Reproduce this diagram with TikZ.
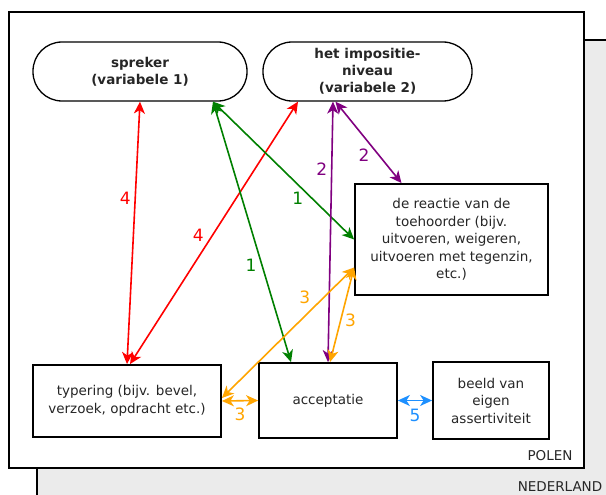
\documentclass[tikz,border=0pt]{standalone}
\usepackage{fontspec}
\setmainfont{DejaVu Sans}
\usepackage{tikz}
\usetikzlibrary{arrows.meta,positioning,calc}
\usepackage{xcolor}

\definecolor{groen}{HTML}{008000}
\definecolor{paars}{HTML}{800080}
\definecolor{oranje}{HTML}{FFA500}
\definecolor{blauw}{HTML}{1E90FF}

\tikzset{
    tekst/.style={font=\fontsize{13.5}{17.5}\selectfont, text=black!85, align=center},
    ovaal/.style={tekst, draw, line width=1.3pt, rounded corners=29pt, font=\fontsize{13.5}{17}\selectfont\bfseries},
    vak/.style={tekst, draw, line width=1.8pt},
    pijl/.style={{Stealth[length=12pt,width=11pt,inset=3.5pt]}-{Stealth[length=12pt,width=11pt,inset=3.5pt]}, line width=1.6pt},
    getal/.style={font=\fontsize{17}{19}\selectfont, inner sep=0pt}
}

\begin{document}
\begin{tikzpicture}[x=1pt, y=-1pt]
    \useasboundingbox (0,0) rectangle (606,495);

    % landen
    \draw[line width=1.8pt, fill=black!8] (37,40) rectangle (630,520);
    \draw[line width=1.8pt, fill=white] (9,12) rectangle (584,468);
    \node[tekst] (nl) at (560,487) {NEDERLAND};
    \node[tekst] (pl) at (550,456) {POLEN};

    % variabelen
    \node[ovaal, minimum width=214pt, minimum height=59pt] (spreker) at (140,71.5) {spreker\\(variabele 1)};
    \node[ovaal, minimum width=209pt, minimum height=59pt] (impositie) at (367.5,71.5) {het impositie-\\niveau\\(variabele 2)};

    % vakken
    \node[vak, minimum width=193pt, minimum height=111pt] (reactie) at (451.5,239.5) {de reactie van de\\toehoorder (bijv.\\uitvoeren, weigeren,\\uitvoeren met tegenzin,\\etc.)};
    \node[vak, minimum width=188pt, minimum height=72pt] (typering) at (127,401) {typering (bijv. bevel,\\verzoek, opdracht etc.)};
    \node[vak, minimum width=138pt, minimum height=75pt] (acceptatie) at (328,400.5) {acceptatie};
    \node[vak, minimum width=116pt, minimum height=77pt] (beeld) at (491,400.5) {beeld van\\eigen\\assertiviteit};

    % 4
    \draw[pijl, red] (spreker.south) -- (typering.north) node[getal, pos=.37, xshift=-10pt] {4};
    \draw[pijl, red] ([xshift=-69.5pt]impositie.south) -- ([xshift=3pt]typering.north) node[getal, pos=.51, xshift=-14pt] {4};
    % 1
    \draw[pijl, groen] ([xshift=73pt]spreker.south) -- ([xshift=-37pt]acceptatie.north) node[getal, pos=.63, xshift=-11pt] {1};
    \draw[pijl, groen] ([xshift=73pt]spreker.south) -- (reactie.west) node[getal, pos=.70, xshift=-14pt] {1};
    % 2
    \draw[pijl, paars] ([xshift=-34.5pt]impositie.south) -- (acceptatie.north) node[getal, pos=.26, xshift=-10pt] {2};
    \draw[pijl, paars] ([xshift=-32pt]impositie.south) -- ([xshift=-50pt]reactie.north) node[getal, pos=.66, xshift=-15pt] {2};
    % 3
    \draw[pijl, oranje] ([yshift=-28pt]reactie.west) -- ([yshift=3pt]typering.east) node[getal, pos=.23, xshift=-19pt] {3};
    \draw[pijl, oranje] ([yshift=-28pt]reactie.west) -- ([xshift=2pt]acceptatie.north) node[getal, pos=.56, xshift=10pt] {3};
    \draw[pijl, oranje] (typering.east) -- (acceptatie.west) node[getal, pos=.5, yshift=-14pt] {3};
    % 5
    \draw[pijl, blauw] (acceptatie.east) -- (beeld.west) node[getal, pos=.5, yshift=-15pt] {5};
\end{tikzpicture}
\end{document}
